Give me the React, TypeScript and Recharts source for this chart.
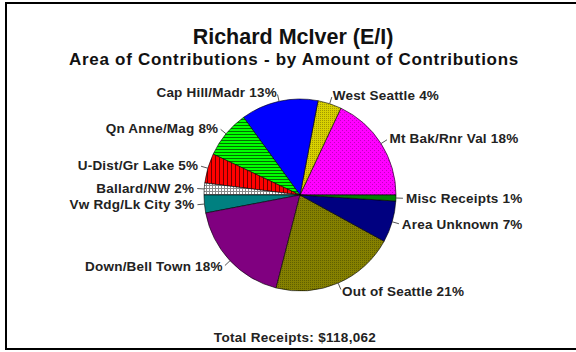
import React from "react";
import { PieChart, Pie, Cell } from "recharts";

const categories = [
  "Mt Bak/Rnr Val",
  "West Seattle",
  "Cap Hill/Madr",
  "Qn Anne/Mag",
  "U-Dist/Gr Lake",
  "Ballard/NW",
  "Vw Rdg/Lk City",
  "Down/Bell Town",
  "Out of Seattle",
  "Area Unknown",
  "Misc Receipts",
];
const percents = [18, 4, 13, 8, 5, 2, 3, 18, 21, 7, 1];
const fills = [
  "url(#pMagenta)",
  "url(#pYellow)",
  "#0000FF",
  "url(#pGreen)",
  "url(#pRed)",
  "url(#pGrid)",
  "#008080",
  "#800080",
  "url(#pOlive)",
  "#000080",
  "#008000",
];
const titleText = "Richard McIver (E/I)";
const subtitleText = "Area of Contributions - by Amount of Contributions";
const footerText = "Total Receipts: $118,062";

const data = categories.map((name, i) => ({ name, value: percents[i] }));

const FONT = "'Liberation Sans', Arial, sans-serif";
const RAD = Math.PI / 180;

const renderLabel = (props: any) => {
  const { cx, cy, midAngle, outerRadius, name, value } = props;
  const c = Math.cos(-midAngle * RAD);
  const s = Math.sin(-midAngle * RAD);
  const x1 = cx + outerRadius * c;
  const y1 = cy + outerRadius * s;
  const x2 = cx + (outerRadius + 7) * c;
  const y2 = cy + (outerRadius + 7) * s;
  const tx = cx + (outerRadius + 10) * c;
  const ty = cy + (outerRadius + 9) * s;
  const anchor = c >= 0 ? "start" : "end";
  return (
    <g>
      <line x1={x1} y1={y1} x2={x2} y2={y2} stroke="#555" strokeWidth={1} />
      <text
        x={tx}
        y={ty}
        textAnchor={anchor}
        dominantBaseline="central"
        fontFamily={FONT}
        fontWeight="bold"
        fontSize={13.5}
        letterSpacing={0.2}
        fill="#222"
      >
        {`${name} ${value}%`}
      </text>
    </g>
  );
};

export default function App() {
  return (
    <div
      style={{
        position: "absolute",
        left: 0,
        top: 0,
        width: 576,
        height: 352,
        overflow: "hidden",
        background: "#fff",
      }}
    >
      <div
        style={{
          position: "absolute",
          left: 5,
          top: 2,
          width: 620,
          height: 344,
          border: "2px solid #000",
          borderRight: "none",
        }}
      />
      <div
        style={{
          position: "absolute",
          left: 0,
          width: 586,
          top: 24,
          textAlign: "center",
          fontFamily: FONT,
          fontWeight: "bold",
          fontSize: 21.5,
          color: "#111",
          lineHeight: "26px",
        }}
      >
        {titleText}
      </div>
      <div
        style={{
          position: "absolute",
          left: 0,
          width: 588,
          top: 50,
          textAlign: "center",
          fontFamily: FONT,
          fontWeight: "bold",
          fontSize: 17,
          letterSpacing: 0.7,
          color: "#111",
          lineHeight: "20px",
        }}
      >
        {subtitleText}
      </div>
      <div
        style={{
          position: "absolute",
          left: 0,
          width: 590,
          top: 330,
          textAlign: "center",
          fontFamily: FONT,
          fontWeight: "bold",
          fontSize: 13.5,
          letterSpacing: 0.3,
          color: "#222",
          lineHeight: "16px",
        }}
      >
        {footerText}
      </div>
      <div style={{ position: "absolute", left: 0, top: 0 }}>
        <PieChart width={576} height={352}>
          <defs>
            <pattern id="pMagenta" width="4" height="4" patternUnits="userSpaceOnUse">
              <rect width="4" height="4" fill="#FF00FF" />
              <rect x="0" y="0" width="1" height="1" fill="#C000C0" />
              <rect x="2" y="2" width="1" height="1" fill="#C000C0" />
            </pattern>
            <pattern id="pYellow" width="2" height="2" patternUnits="userSpaceOnUse">
              <rect width="2" height="2" fill="#D8D000" />
              <rect x="0" y="0" width="1" height="1" fill="#A09800" />
            </pattern>
            <pattern id="pGreen" width="3" height="3" patternUnits="userSpaceOnUse">
              <rect width="3" height="3" fill="#00FF00" />
              <rect x="0" y="2" width="3" height="1" fill="#007000" />
            </pattern>
            <pattern id="pRed" width="4" height="4" patternUnits="userSpaceOnUse">
              <rect width="4" height="4" fill="#FF0000" />
              <rect x="3" y="0" width="1" height="4" fill="#700000" />
            </pattern>
            <pattern id="pGrid" width="3" height="3" patternUnits="userSpaceOnUse">
              <rect width="3" height="3" fill="#FFFFFF" />
              <rect x="0" y="2" width="3" height="1" fill="#8A8A8A" />
              <rect x="2" y="0" width="1" height="3" fill="#8A8A8A" />
            </pattern>
            <pattern id="pOlive" width="2" height="2" patternUnits="userSpaceOnUse">
              <rect width="2" height="2" fill="#858000" />
              <rect x="0" y="0" width="1" height="1" fill="#606000" />
            </pattern>
          </defs>
          <Pie
            data={data}
            dataKey="value"
            nameKey="name"
            cx={295}
            cy={190}
            outerRadius={96}
            startAngle={0}
            endAngle={360}
            stroke="#000"
            strokeWidth={0.6}
            label={renderLabel}
            labelLine={false}
            isAnimationActive={false}
          >
            {data.map((d, i) => (
              <Cell key={d.name} fill={fills[i]} />
            ))}
          </Pie>
        </PieChart>
      </div>
    </div>
  );
}
